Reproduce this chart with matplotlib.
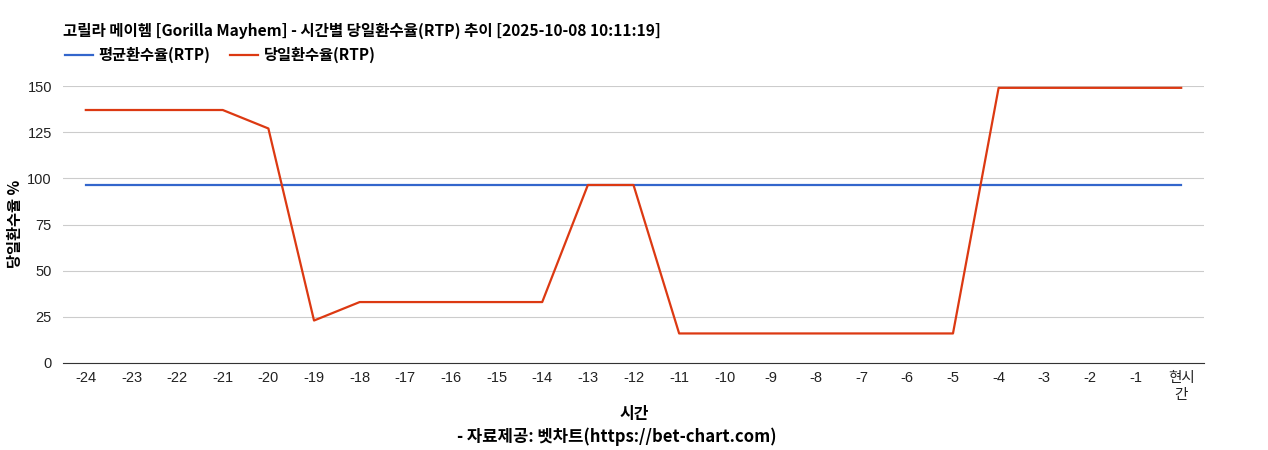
import matplotlib.pyplot as plt

plt.rcParams['font.family'] = ['Liberation Sans', 'Noto Sans CJK KR', 'DejaVu Sans']

# x categories (hours before now)
hours = ['-24', '-23', '-22', '-21', '-20', '-19', '-18', '-17', '-16', '-15', '-14', '-13',
         '-12', '-11', '-10', '-9', '-8', '-7', '-6', '-5', '-4', '-3', '-2', '-1', '현시\n간']
avg_rtp = [96.4] * 25
daily_rtp = [137, 137, 137, 137, 127, 23, 33, 33, 33, 33, 33, 96.4,
             96.4, 16, 16, 16, 16, 16, 16, 16, 149, 149, 149, 149, 149]

kr = ['Noto Sans CJK KR', 'DejaVu Sans']

fig = plt.figure(figsize=(12.68, 4.5), dpi=100)
ax = fig.add_axes([63 / 1268, 1 - 363 / 450, (1204 - 63) / 1268, (363 - 86) / 450])

x = list(range(len(hours)))
ax.plot(x, avg_rtp, color='#3366cc', lw=1.6, label='평균환수율(RTP)', clip_on=False)
ax.plot(x, daily_rtp, color='#dc3912', lw=1.6, label='당일환수율(RTP)', clip_on=False)

ax.set_xlim(-0.5, len(hours) - 0.5)
ax.set_ylim(0, 150)
ax.set_yticks([0, 25, 50, 75, 100, 125, 150])
ax.set_xticks(x)
ax.set_xticklabels(hours)
ax.grid(axis='y', color='#cccccc', lw=0.8)
ax.set_axisbelow(True)
for s in ['top', 'right', 'left']:
    ax.spines[s].set_visible(False)
ax.spines['bottom'].set_color('#333333')
ax.tick_params(axis='both', length=0, labelsize=10.5, colors='#222222', pad=6)
ax.tick_params(axis='y', pad=8)

fig.text(15 / 1268, 1 - 224 / 450, '당일환수율 %', family=kr, fontsize=11, fontweight='bold',
         rotation=90, ha='center', va='center')
fig.text(634 / 1268, 1 - 414 / 450, '시간', family=kr, fontsize=11.5, fontweight='bold',
         ha='center', va='center')
fig.text(617 / 1268, 1 - 437 / 450, '- 자료제공: 벳차트(https://bet-chart.com)', family=kr,
         fontsize=12, fontweight='bold', ha='center', va='center')
fig.text(63 / 1268, 1 - 31 / 450,
         '고릴라 메이헴 [Gorilla Mayhem] - 시간별 당일환수율(RTP) 추이 [2025-10-08 10:11:19]',
         family=kr, fontsize=11.2, fontweight='bold', ha='left', va='center')

fig.legend(loc='center left', bbox_to_anchor=(59 / 1268, 1 - 55 / 450), ncol=2,
           frameon=False, prop={'family': kr, 'size': 11, 'weight': 'bold'},
           handlelength=1.8, handletextpad=0.4, columnspacing=1.3, borderaxespad=0)

fig.savefig('out.png', dpi=100)
